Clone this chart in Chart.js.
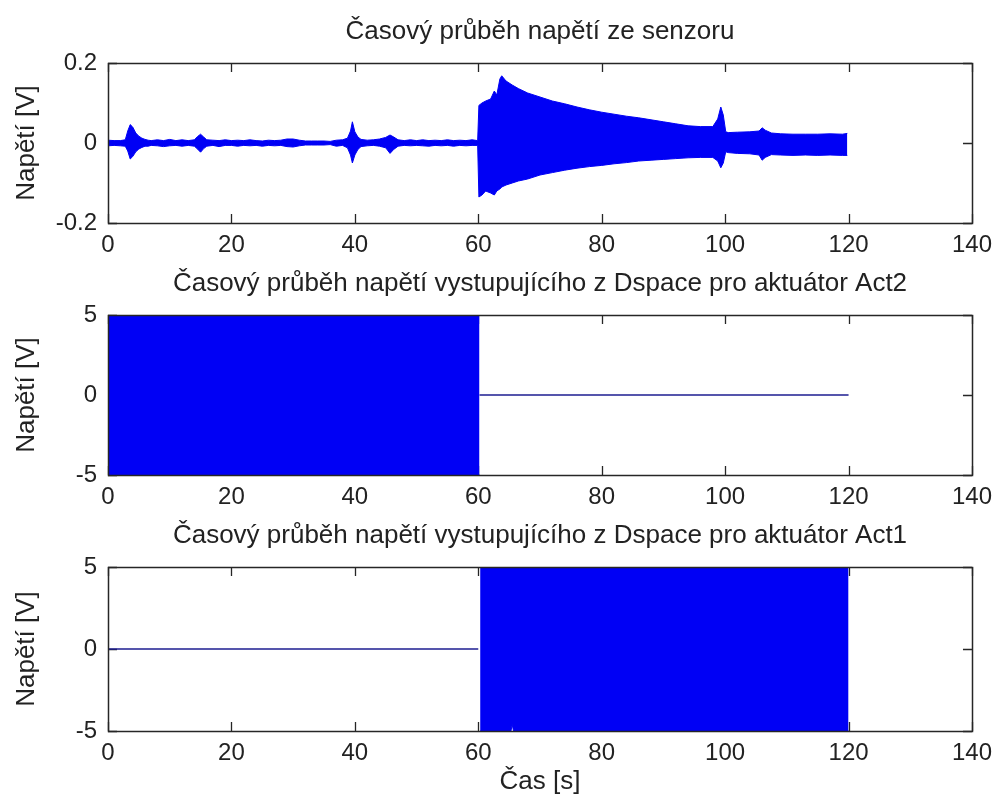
<!DOCTYPE html>
<html>
<head>
<meta charset="utf-8">
<title>Časový průběh napětí</title>
<script src="https://cdn.jsdelivr.net/npm/chart.js@4.4.0/dist/chart.umd.min.js"></script>
<style>
  html, body { margin: 0; padding: 0; background: #fff; }
  #wrap { position: relative; width: 1002px; height: 798px; overflow: hidden; }
  canvas { position: absolute; left: 0; }
</style>
</head>
<body>
<div id="wrap">
  <canvas id="sensorChart" width="1002" height="270" style="top:0px"></canvas>
  <canvas id="act2Chart" width="1002" height="270" style="top:252px"></canvas>
  <canvas id="act1Chart" width="1002" height="294" style="top:504px"></canvas>
</div>
<script>
// tick labels
const xTickValues = [0, 20, 40, 60, 80, 100, 120, 140];
const sensorYTicks = [-0.2, 0, 0.2];
const actYTicks = [-5, 0, 5];

// sensor signal, read as upper / lower envelope of the dense trace
const sensorTime = [0, 1, 2, 2.8, 3.2, 3.6, 4.0, 4.5, 5.0, 5.5, 6.0, 6.5, 7, 8, 9, 10, 11, 12, 13, 14, 14.5, 15, 15.5, 16,
    17, 18, 19, 20, 21, 22, 23, 24, 25, 26, 27, 28, 29, 30, 31, 32, 33, 34, 35, 36, 37, 38, 38.8, 39.3, 39.6, 40.0,
    40.5, 41, 42, 43, 44, 45, 45.7, 46.3, 47, 48, 49, 50, 51, 52, 53, 54, 55, 56, 57, 58, 59, 59.9,
    60.1, 60.6, 61.2, 62, 62.6, 63.0, 63.5, 63.8, 64.5, 65.5, 66.5, 68, 70, 72, 74, 76, 78, 80, 82, 84, 86, 88, 90,
    92, 94, 96, 98, 98.8, 99.3, 99.7, 100.1, 100.5, 102, 104, 105.5, 106, 106.5, 107.5, 109, 111, 113, 115, 117, 119, 119.8];
const sensorUpper = [0.007, 0.006, 0.006, 0.008, 0.03, 0.046, 0.04, 0.025, 0.017, 0.012, 0.009, 0.007, 0.006, 0.008, 0.006, 0.009, 0.006, 0.008, 0.006, 0.008, 0.016, 0.022, 0.015, 0.008,
    0.007, 0.006, 0.008, 0.006, 0.007, 0.006, 0.008, 0.006, 0.005, 0.007, 0.006, 0.007, 0.01, 0.01, 0.007, 0.005, 0.005, 0.005, 0.005, 0.004, 0.007, 0.008, 0.012, 0.03, 0.053, 0.028,
    0.015, 0.009, 0.007, 0.008, 0.01, 0.014, 0.02, 0.015, 0.008, 0.006, 0.008, 0.006, 0.008, 0.006, 0.007, 0.006, 0.008, 0.006, 0.007, 0.006, 0.008, 0.006,
    0.094, 0.1, 0.105, 0.11, 0.13, 0.12, 0.16, 0.168, 0.155, 0.145, 0.136, 0.125, 0.115, 0.105, 0.098, 0.09, 0.083, 0.077, 0.072, 0.067, 0.063, 0.058, 0.053,
    0.048, 0.043, 0.041, 0.041, 0.06, 0.09, 0.07, 0.028, 0.026, 0.027, 0.028, 0.03, 0.038, 0.032, 0.025, 0.023, 0.022, 0.022, 0.022, 0.023, 0.022, 0.024];
const sensorLower = [-0.007, -0.006, -0.007, -0.008, -0.02, -0.04, -0.034, -0.022, -0.015, -0.011, -0.008, -0.008, -0.006, -0.007, -0.009, -0.007, -0.006, -0.008, -0.006, -0.008, -0.015, -0.023, -0.014, -0.008,
    -0.006, -0.009, -0.006, -0.006, -0.008, -0.006, -0.007, -0.006, -0.008, -0.006, -0.007, -0.006, -0.009, -0.01, -0.007, -0.005, -0.005, -0.005, -0.005, -0.004, -0.008, -0.006, -0.012, -0.03, -0.05, -0.03,
    -0.016, -0.009, -0.007, -0.006, -0.008, -0.012, -0.026, -0.016, -0.008, -0.006, -0.007, -0.006, -0.007, -0.008, -0.006, -0.007, -0.006, -0.008, -0.006, -0.007, -0.006, -0.006,
    -0.135, -0.13, -0.12, -0.125, -0.13, -0.12, -0.115, -0.11, -0.105, -0.1, -0.095, -0.09, -0.08, -0.074, -0.068, -0.063, -0.059, -0.056, -0.052, -0.049, -0.045, -0.043, -0.041,
    -0.039, -0.037, -0.036, -0.036, -0.045, -0.062, -0.05, -0.022, -0.024, -0.026, -0.027, -0.03, -0.043, -0.036, -0.029, -0.03, -0.031, -0.03, -0.031, -0.03, -0.031, -0.031];

// Act2 output: saturated band until 60 s, then zero
const act2BandTime = [0, 60.2];
const act2BandUpper = [5, 5];
const act2BandLower = [-5, -5];
const act2ZeroTime = [60.2, 120];
const act2ZeroValues = [0, 0];

// Act1 output: zero until 60 s, then saturated band
const act1ZeroTime = [0, 60];
const act1ZeroValues = [0, 0];
const act1BandTime = [60.3, 65.3, 65.5, 65.7, 120];
const act1BandUpper = [5, 5, 5, 5, 5];
const act1BandLower = [-5, -5, -4.6, -5, -5];

const FONT = "'Liberation Sans', Arial, sans-serif";
const TEXT = '#222';
const BLUE = '#0000f5';
const TICK = 9;

const toPoints = (xs, ys) => xs.map((x, i) => ({ x: x, y: ys[i] }));

// MATLAB-like box with inward ticks on all four sides, title centred over the axes
const matlabAxes = {
    id: 'matlabAxes',
    beforeDatasetsDraw(chart) {
        const { ctx, chartArea: a, scales: { x, y } } = chart;
        ctx.save();
        ctx.strokeStyle = '#262626';
        ctx.lineWidth = 1.3;
        ctx.beginPath();
        x.ticks.forEach(t => {
            const px = Math.round(x.getPixelForValue(t.value)) + 0.5;
            ctx.moveTo(px, a.bottom); ctx.lineTo(px, a.bottom - TICK);
            ctx.moveTo(px, a.top); ctx.lineTo(px, a.top + TICK);
        });
        y.ticks.forEach(t => {
            const py = Math.round(y.getPixelForValue(t.value)) + 0.5;
            ctx.moveTo(a.left, py); ctx.lineTo(a.left + TICK, py);
            ctx.moveTo(a.right, py); ctx.lineTo(a.right - TICK, py);
        });
        ctx.stroke();
        ctx.restore();
    },
    afterDatasetsDraw(chart, args, opts) {
        const { ctx, chartArea: a } = chart;
        ctx.save();
        ctx.strokeStyle = '#262626';
        ctx.lineWidth = 1.5;
        ctx.strokeRect(Math.round(a.left) + 0.5, Math.round(a.top) + 0.5,
            Math.round(a.right - a.left), Math.round(a.bottom - a.top));
        ctx.fillStyle = TEXT;
        ctx.font = '26px ' + FONT;
        ctx.textAlign = 'center';
        ctx.textBaseline = 'middle';
        ctx.fillText(opts.text, (a.left + a.right) / 2, a.top - 31);
        ctx.restore();
    }
};

function makeOptions(title, yMin, yMax, yTicks, axisHeight, xTitle) {
    return {
        responsive: false,
        animation: false,
        devicePixelRatio: 1,
        layout: { padding: { left: 0, right: 23, top: 63, bottom: 0 } },
        elements: { point: { radius: 0 }, line: { tension: 0 } },
        plugins: {
            legend: { display: false },
            tooltip: { enabled: false },
            title: { display: false },
            matlabAxes: { text: title }
        },
        scales: {
            x: {
                type: 'linear',
                min: 0,
                max: 140,
                afterBuildTicks: s => { s.ticks = xTickValues.map(v => ({ value: v })); },
                afterFit: s => { s.height = axisHeight; },
                grid: { display: false, drawTicks: false },
                border: { display: false },
                ticks: { color: TEXT, padding: 10, font: { family: FONT, size: 24, lineHeight: '24px' } },
                title: {
                    display: !!xTitle,
                    text: xTitle || '',
                    color: TEXT,
                    font: { family: FONT, size: 26, lineHeight: '26px' },
                    padding: { top: 0, bottom: 3 }
                }
            },
            y: {
                min: yMin,
                max: yMax,
                afterBuildTicks: s => { s.ticks = yTicks.map(v => ({ value: v })); },
                afterFit: s => { s.width = 108; },
                grid: { display: false, drawTicks: false },
                border: { display: false },
                ticks: { color: TEXT, padding: 11, font: { family: FONT, size: 24, lineHeight: '24px' } },
                title: {
                    display: true,
                    text: 'Napětí [V]',
                    color: TEXT,
                    font: { family: FONT, size: 26, lineHeight: '26px' },
                    padding: { top: 14, bottom: 0 }
                }
            }
        }
    };
}

function bandDatasets(xs, upper, lower) {
    return [
        { data: toPoints(xs, upper), borderColor: BLUE, borderWidth: 1, backgroundColor: BLUE, fill: '+1' },
        { data: toPoints(xs, lower), borderColor: BLUE, borderWidth: 1, fill: false }
    ];
}

function zeroLine(xs, ys) {
    return { data: toPoints(xs, ys), borderColor: '#1c1c90', borderWidth: 1.5, fill: false };
}

new Chart(document.getElementById('sensorChart'), {
    type: 'line',
    data: { datasets: bandDatasets(sensorTime, sensorUpper, sensorLower) },
    options: makeOptions('Časový průběh napětí ze senzoru', -0.2, 0.2, sensorYTicks, 47),
    plugins: [matlabAxes]
});

new Chart(document.getElementById('act2Chart'), {
    type: 'line',
    data: { datasets: bandDatasets(act2BandTime, act2BandUpper, act2BandLower).concat([zeroLine(act2ZeroTime, act2ZeroValues)]) },
    options: makeOptions('Časový průběh napětí vystupujícího z Dspace pro aktuátor Act2', -5, 5, actYTicks, 47),
    plugins: [matlabAxes]
});

new Chart(document.getElementById('act1Chart'), {
    type: 'line',
    data: { datasets: [zeroLine(act1ZeroTime, act1ZeroValues)].concat(bandDatasets(act1BandTime, act1BandUpper, act1BandLower)) },
    options: makeOptions('Časový průběh napětí vystupujícího z Dspace pro aktuátor Act1', -5, 5, actYTicks, 67, 'Čas [s]'),
    plugins: [matlabAxes]
});
</script>
</body>
</html>
